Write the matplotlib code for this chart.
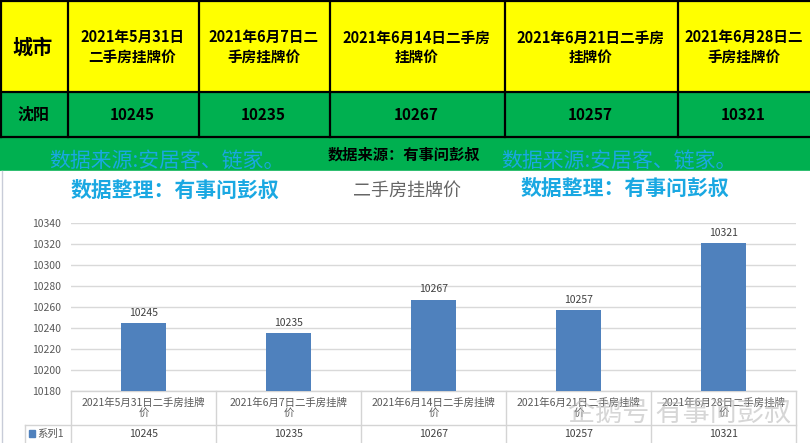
import numpy as np
import matplotlib
matplotlib.use('Agg')
import matplotlib.pyplot as plt
from matplotlib.patches import Rectangle

plt.rcParams['font.family'] = ['Noto Sans CJK SC', 'DejaVu Sans']

# 数据
city = '沈阳'
header_labels = ['2021年5月31日\n二手房挂牌价', '2021年6月7日二\n手房挂牌价',
                 '2021年6月14日二手房\n挂牌价', '2021年6月21日二手房\n挂牌价',
                 '2021年6月28日二\n手房挂牌价']
categories = ['2021年5月31日二手房挂牌价', '2021年6月7日二手房挂牌价',
              '2021年6月14日二手房挂牌价', '2021年6月21日二手房挂牌价',
              '2021年6月28日二手房挂牌价']
prices = [10245, 10235, 10267, 10257, 10321]
yticks = [10180, 10200, 10220, 10240, 10260, 10280, 10300, 10320, 10340]
series_name = '系列1'

W, H = 810, 443
fig = plt.figure(figsize=(W / 100, H / 100), dpi=100)

# 底层: 表格和文字(像素坐标)
ax0 = fig.add_axes([0, 0, 1, 1])
ax0.set_xlim(0, W)
ax0.set_ylim(H, 0)
ax0.axis('off')

col_x = [0, 67, 198, 329, 504, 677, 812]
ax0.add_patch(Rectangle((0, 0), W, 92, color='#FFFF00', zorder=1))
ax0.add_patch(Rectangle((0, 92), W, 79, color='#00B050', zorder=1))
ax0.add_patch(Rectangle((0, 171), W, H - 171, color='white', zorder=1))
for x in col_x[:-1]:
    ax0.plot([x + 0.5, x + 0.5], [0, 137], color='black', lw=1.6, zorder=2)
for y in [0.8, 92, 137]:
    ax0.plot([0, W], [y, y], color='black', lw=1.6, zorder=2)
ax0.plot([2, 2], [171, H], color='#C8CCD8', lw=1, zorder=2)

ax0.text(33, 47, '城市', ha='center', va='center', fontsize=14.5, fontweight='bold', zorder=3)
ax0.text(33, 115, city, ha='center', va='center', fontsize=11.5, fontweight='bold', zorder=3)
for i in range(5):
    cx = (col_x[i + 1] + col_x[i + 2]) / 2
    if i == 4:
        cx = (col_x[5] + W) / 2
    ax0.text(cx, 47, header_labels[i], ha='center', va='center', fontsize=10.5,
             fontweight='bold', linespacing=1.25, zorder=3)
    ax0.text(cx, 115, str(prices[i]), ha='center', va='center', fontsize=11,
             fontweight='bold', zorder=3)

cyan = '#1AA8E2'
ax0.text(167, 161, '数据来源:安居客、链家。', ha='center', va='center', fontsize=15, color=cyan, zorder=3)
ax0.text(619, 161, '数据来源:安居客、链家。', ha='center', va='center', fontsize=15, color=cyan, zorder=3)
ax0.text(404, 155, '数据来源：有事问彭叔', ha='center', va='center', fontsize=11, fontweight='bold', zorder=3)
ax0.text(175, 190, '数据整理：有事问彭叔', ha='center', va='center', fontsize=15, fontweight='bold', color=cyan, zorder=3)
ax0.text(625, 188, '数据整理：有事问彭叔', ha='center', va='center', fontsize=15, fontweight='bold', color=cyan, zorder=3)
ax0.text(407, 191, '二手房挂牌价', ha='center', va='center', fontsize=13, color='#666666', zorder=3)

# 图表
left, right, top, bottom = 71, 796, 223, 391
ax = fig.add_axes([left / W, 1 - bottom / H, (right - left) / W, (bottom - top) / H])
ax.set_facecolor('none')
x = np.arange(len(prices))
ax.bar(x, np.array(prices) - 10180, bottom=10180, width=0.31, color='#4F81BD', zorder=2)
for xi, v in zip(x, prices):
    ax.text(xi, v + 5, str(v), ha='center', va='bottom', fontsize=7.5, color='#404040')
ax.set_xlim(-0.5, len(prices) - 0.5)
ax.set_ylim(10180, 10340)
ax.set_yticks(yticks)
ax.set_yticklabels([str(t) for t in yticks], fontsize=7.5, color='#595959')
ax.set_xticks([])
ax.grid(axis='y', color='#D9D9D9', lw=1, zorder=0)
ax.tick_params(axis='y', length=0, pad=7)
for s in ax.spines.values():
    s.set_visible(False)

# 数据表
line_c = '#D4D4D4'
cat_w = (right - left) / len(prices)
ax0.plot([left, right], [bottom, bottom], color=line_c, lw=1, zorder=3)
ax0.plot([25, right], [425, 425], color=line_c, lw=1, zorder=3)
ax0.plot([25, 25], [425, H], color=line_c, lw=1, zorder=3)
for i in range(len(prices) + 1):
    xx = left + i * cat_w
    ax0.plot([xx, xx], [bottom, H], color=line_c, lw=1, zorder=3)
for i, c in enumerate(categories):
    cx = left + (i + 0.5) * cat_w
    ax0.text(cx, 408, c[:-1] + '\n' + c[-1], ha='center', va='center', fontsize=7.5,
             color='#595959', linespacing=1.0, zorder=4)
    ax0.text(cx, 434, str(prices[i]), ha='center', va='center', fontsize=7.5,
             color='#404040', zorder=4)
ax0.add_patch(Rectangle((29, 430), 6, 7, color='#4F81BD', zorder=4))
ax0.text(37, 434, series_name, ha='left', va='center', fontsize=7.5, color='#595959', zorder=4)

# 水印
fig.text(680 / W, 1 - 413 / H, '企鹅号 有事问彭叔', ha='center', va='center', fontsize=19.5,
         color='#BBBBBB', alpha=0.6)

fig.savefig('out.png', dpi=100)
